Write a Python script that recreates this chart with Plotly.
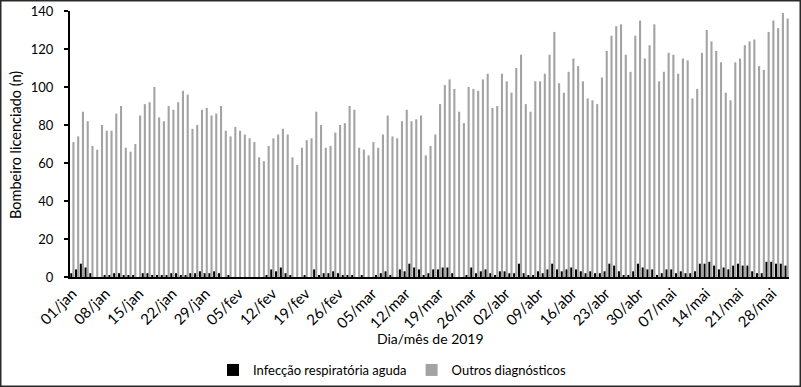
import plotly.graph_objects as go

# Categories: days from 01/jan to 31/mai 2019
months = ["jan", "fev", "mar", "abr", "mai"]
days_in_month = [31, 28, 31, 30, 31]
days = [f"{d:02d}/{m}" for m, n in zip(months, days_in_month) for d in range(1, n + 1)]

tick_labels = ["01/jan", "08/jan", "15/jan", "22/jan", "29/jan", "05/fev", "12/fev",
               "19/fev", "26/fev", "05/mar", "12/mar", "19/mar", "26/mar", "02/abr",
               "09/abr", "16/abr", "23/abr", "30/abr", "07/mai", "14/mai", "21/mai", "28/mai"]

infeccao = [
    # jan
    2, 4, 7, 5, 2, 0, 0, 1, 1, 2, 2, 1, 1, 1, 0, 2, 2, 1, 1, 1, 1, 2, 2, 1, 1, 2, 2, 3, 2, 2, 3,
    # fev
    2, 0, 1, 0, 0, 0, 0, 0, 0, 0, 1, 4, 3, 5, 2, 1, 0, 0, 1, 0, 4, 1, 2, 2, 3, 2, 1, 1,
    # mar
    1, 0, 1, 0, 0, 1, 2, 3, 1, 0, 4, 3, 7, 5, 4, 1, 2, 4, 4, 5, 5, 2, 0, 0, 1, 5, 2, 3, 4, 2, 1,
    # abr
    3, 3, 2, 2, 7, 2, 1, 1, 3, 2, 4, 7, 4, 3, 4, 5, 4, 3, 2, 3, 2, 2, 3, 7, 6, 3, 1, 1, 3, 7,
    # mai
    5, 4, 4, 1, 2, 4, 4, 2, 3, 2, 2, 3, 7, 7, 8, 6, 4, 5, 4, 6, 7, 6, 6, 3, 2, 2, 8, 8, 7, 7, 6,
]

outros = [
    # jan
    71, 74, 87, 82, 69, 67, 80, 77, 77, 86, 90, 68, 66, 70, 85, 91, 92, 100, 84, 82, 90, 88, 92, 98, 96, 78, 80, 88, 89, 85, 86,
    # fev
    90, 77, 74, 79, 77, 75, 73, 71, 63, 61, 69, 73, 75, 78, 75, 63, 59, 68, 72, 73, 87, 80, 68, 69, 76, 80, 81, 90,
    # mar
    88, 68, 67, 64, 71, 68, 75, 85, 74, 73, 82, 88, 82, 83, 85, 64, 69, 75, 91, 101, 104, 99, 87, 81, 100, 99, 98, 104, 107, 89, 90,
    # abr
    107, 103, 97, 110, 117, 91, 87, 103, 103, 107, 117, 129, 102, 97, 108, 115, 111, 103, 94, 93, 91, 105, 119, 127, 132, 133, 117, 108, 127, 135,
    # mai
    115, 122, 133, 103, 108, 118, 117, 107, 115, 114, 94, 99, 118, 130, 124, 119, 113, 97, 93, 113, 115, 122, 124, 125, 111, 109, 129, 135, 131, 139, 136,
]

y_ticks = [0, 20, 40, 60, 80, 100, 120, 140]

FONT = "Lato, Open Sans, sans-serif"

W, H = 801, 387
ML, MR, MT, MB = 70, 12, 11, 110
PW, PH = W - ML - MR, H - MT - MB


def px(xp):
    return (xp - ML) / PW


def py(yp):
    return (H - MB - yp) / PH


fig = go.Figure()
fig.add_trace(go.Bar(x=days, y=infeccao, name="Infecção respiratória aguda",
                     marker=dict(color="#000000", line=dict(width=0))))
fig.add_trace(go.Bar(x=days, y=outros, name="Outros diagnósticos",
                     marker=dict(color="#a3a3a3", line=dict(width=0))))

fig.update_layout(
    width=W, height=H,
    margin=dict(l=ML, r=MR, t=MT, b=MB, autoexpand=False),
    paper_bgcolor="white", plot_bgcolor="white",
    barmode="group", bargap=0.12, bargroupgap=0,
    font=dict(family=FONT, size=12, color="#000000"),
    showlegend=True,
    legend=dict(orientation="h", xref="container", yref="container",
                x=392 / W, y=1 - 370 / H, xanchor="center", yanchor="middle",
                font=dict(size=13), itemwidth=30, traceorder="normal"),
    xaxis=dict(type="category", categoryorder="array", categoryarray=days,
               tickmode="array", tickvals=tick_labels, ticktext=tick_labels,
               tickangle=-45, ticks="", showline=True, linecolor="#000000", linewidth=2,
               showgrid=False, zeroline=False, tickfont=dict(size=15), automargin=False),
    yaxis=dict(range=[0, 140], tickmode="array", tickvals=y_ticks,
               ticks="outside", ticklen=4, tickwidth=2, tickcolor="#000000",
               ticklabelstandoff=8,
               showline=True, linecolor="#000000", linewidth=2, showgrid=False,
               zeroline=False, tickfont=dict(size=13), automargin=False),
    annotations=[
        dict(text="Dia/mês de 2019", x=px(430), y=py(338), xref="paper", yref="paper",
             showarrow=False, font=dict(size=14), xanchor="center", yanchor="middle"),
        dict(text="Bombeiro licenciado (n)", x=px(15), y=py(145), xref="paper", yref="paper",
             showarrow=False, textangle=-90, font=dict(size=14.5), xanchor="center", yanchor="middle"),
    ],
    shapes=[
        dict(type="rect", xref="paper", yref="paper",
             x0=px(0.75), x1=px(W - 0.75), y0=py(H - 0.75), y1=py(0.75),
             line=dict(color="#2a2a2a", width=1.5), fillcolor="rgba(0,0,0,0)", layer="above"),
    ],
)

fig.write_html("out.html", config={"displayModeBar": False},
               post_script="document.body.style.margin='0';")
